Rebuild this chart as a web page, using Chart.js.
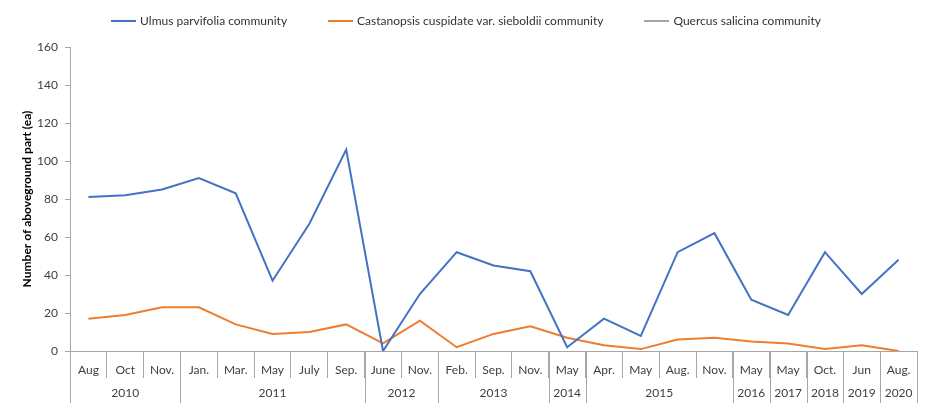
<!DOCTYPE html>
<html>
<head>
<meta charset="utf-8">
<script src="https://cdn.jsdelivr.net/npm/chart.js@4.4.0/dist/chart.umd.min.js"></script>
<style>
    body { margin: 0; background: #fff; }
    #wrap { position: relative; width: 932px; height: 411px; }
    #legend {
        position: absolute; top: 13px; left: 0; width: 932px;
        display: flex; justify-content: center; gap: 41px;
        font: 12px Lato, sans-serif; color: #333;
    }
    .item { display: flex; align-items: center; }
    .swatch { display: inline-block; width: 25px; height: 2px; margin-right: 4px; }
</style>
</head>
<body>
<div id="wrap">
    <canvas id="chart" width="932" height="411"></canvas>
    <div id="legend"></div>
</div>
<script>
// month labels (bottom row) and their year groups
let months = ['Aug', 'Oct', 'Nov.', 'Jan.', 'Mar.', 'May', 'July', 'Sep.', 'June', 'Nov.', 'Feb.', 'Sep.', 'Nov.', 'May', 'Apr.', 'May', 'Aug.', 'Nov.', 'May', 'May', 'Oct.', 'Jun', 'Aug.'];
let years = ['2010', '2011', '2012', '2013', '2014', '2015', '2016', '2017', '2018', '2019', '2020'];
let yearSpans = [3, 5, 2, 3, 1, 4, 1, 1, 1, 1, 1];

let ulmus = [81, 82, 85, 91, 83, 37, 67, 106, 0, 30, 52, 45, 42, 2, 17, 8, 52, 62, 27, 19, 52, 30, 48];
let castanopsis = [17, 19, 23, 23, 14, 9, 10, 14, 4, 16, 2, 9, 13, 7, 3, 1, 6, 7, 5, 4, 1, 3, 0];
let quercus = [];

let seriesNames = ['Ulmus parvifolia community', 'Castanopsis cuspidate var. sieboldii community', 'Quercus salicina community'];
let seriesColors = ['#4472C4', '#ED7D31', '#A5A5A5'];

let axisColor = '#a6a6a6';
let textColor = '#404040';

// legend as html
let legend = document.getElementById('legend');
seriesNames.forEach((name, i) => {
    legend.innerHTML += `<div class="item"><span class="swatch" style="background:${seriesColors[i]}"></span>${name}</div>`;
});

// year row under the month labels
const yearRow = {
    id: 'yearRow',
    afterDraw(chart) {
        let x = chart.scales.x;
        let ctx = chart.ctx;
        let bottom = chart.chartArea.bottom;
        let half = (x.getPixelForValue(1) - x.getPixelForValue(0)) / 2;
        let start = 0;

        ctx.save();
        ctx.strokeStyle = axisColor;
        ctx.lineWidth = 1;
        ctx.fillStyle = textColor;
        ctx.font = '12px Lato, sans-serif';
        ctx.textAlign = 'center';
        ctx.textBaseline = 'middle';

        years.forEach((year, i) => {
            let left = x.getPixelForValue(start) - half;
            let right = x.getPixelForValue(start + yearSpans[i] - 1) + half;
            [left, right].forEach(px => {
                px = Math.round(px) + 0.5;
                ctx.beginPath();
                ctx.moveTo(px, bottom);
                ctx.lineTo(px, bottom + 52);
                ctx.stroke();
            });
            ctx.fillText(year, (left + right) / 2, bottom + 42);
            start += yearSpans[i];
        });
        ctx.restore();
    }
};

let ctx = document.getElementById('chart').getContext('2d');
let chart = new Chart(ctx, {
    type: 'line',
    data: {
        labels: months,
        datasets: [ulmus, castanopsis, quercus].map((values, i) => ({
            label: seriesNames[i],
            data: values,
            borderColor: seriesColors[i],
            backgroundColor: seriesColors[i],
            borderWidth: 2,
            pointRadius: 0,
            tension: 0
        }))
    },
    options: {
        responsive: false,
        animation: false,
        layout: { padding: { top: 47, right: 15, left: 0, bottom: 0 } },
        plugins: {
            legend: { display: false },
            tooltip: { enabled: false }
        },
        scales: {
            x: {
                offset: true,
                afterFit: scale => { scale.height = 60; },
                grid: {
                    offset: true,
                    drawOnChartArea: false,
                    tickLength: 27,
                    color: axisColor
                },
                border: { color: axisColor },
                ticks: {
                    autoSkip: false,
                    maxRotation: 0,
                    padding: -15,
                    color: textColor,
                    font: { family: 'Lato', size: 12 }
                }
            },
            y: {
                min: 0,
                max: 160,
                afterFit: scale => { scale.width = 70; },
                grid: {
                    drawOnChartArea: false,
                    tickLength: 5,
                    color: axisColor
                },
                border: { color: axisColor },
                ticks: {
                    stepSize: 20,
                    padding: 7,
                    color: textColor,
                    font: { family: 'Lato', size: 12 }
                },
                title: {
                    display: true,
                    text: 'Number of aboveground part (ea)',
                    color: '#000',
                    font: { family: 'Lato', size: 12, weight: 'bold' },
                    padding: { top: 20, bottom: 0 }
                }
            }
        }
    },
    plugins: [yearRow]
});
</script>
</body>
</html>
